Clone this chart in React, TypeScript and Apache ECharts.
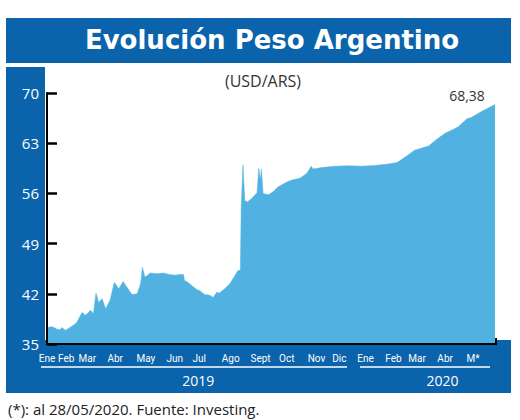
import React, { useEffect, useRef } from 'react';
import * as echarts from 'echarts';

const dates = [
  '2019-01-02', '2019-01-08', '2019-01-13', '2019-01-17', '2019-01-19', '2019-01-23', '2019-01-27',
  '2019-02-02', '2019-02-05', '2019-02-11', '2019-02-15', '2019-02-21', '2019-02-24', '2019-02-27',
  '2019-03-02', '2019-03-06', '2019-03-10', '2019-03-15', '2019-03-20', '2019-03-25', '2019-03-30',
  '2019-04-03', '2019-04-09', '2019-04-15', '2019-04-19', '2019-04-21', '2019-04-24', '2019-04-30',
  '2019-05-08', '2019-05-15', '2019-05-22', '2019-05-28',
  '2019-06-03', '2019-06-07', '2019-06-08', '2019-06-12', '2019-06-16', '2019-06-22', '2019-06-26',
  '2019-07-01', '2019-07-07', '2019-07-11', '2019-07-15', '2019-07-18', '2019-07-24', '2019-07-30',
  '2019-08-05', '2019-08-08', '2019-08-11', '2019-08-12', '2019-08-14', '2019-08-16', '2019-08-19',
  '2019-08-24', '2019-08-30', '2019-09-01', '2019-09-03', '2019-09-04', '2019-09-06', '2019-09-12',
  '2019-09-17', '2019-09-23', '2019-10-03', '2019-10-10', '2019-10-18', '2019-10-26', '2019-10-31',
  '2019-11-02', '2019-11-12', '2019-11-27', '2019-12-12', '2019-12-28',
  '2020-01-12', '2020-01-27', '2020-02-06', '2020-02-17', '2020-02-26', '2020-03-13', '2020-03-24',
  '2020-04-01', '2020-04-10', '2020-04-16', '2020-04-26', '2020-05-01', '2020-05-11', '2020-05-17',
  '2020-05-28',
];

const values = [
  37.3, 37.4, 37.1, 37.0, 37.3, 36.9, 37.2,
  37.7, 38.0, 39.4, 39.0, 39.7, 39.2, 42.1,
  40.8, 41.3, 39.9, 41.1, 43.6, 42.7, 43.7,
  43.0, 41.9, 42.0, 43.4, 45.7, 44.3, 44.9,
  44.8, 44.9, 44.7, 44.6,
  44.7, 44.7, 43.9, 43.6, 43.2, 42.6, 42.4,
  41.9, 41.8, 41.5, 42.2, 42.1, 42.7, 43.4,
  44.6, 45.2, 45.3, 54.3, 60.0, 55.0, 54.8,
  55.3, 56.1, 59.5, 57.9, 59.4, 56.0, 55.8,
  56.2, 56.9, 57.6, 57.9, 58.1, 58.8, 59.8,
  59.4, 59.6, 59.8, 59.85, 59.8,
  59.9, 60.1, 60.3, 61.2, 62.0, 62.6, 63.7,
  64.4, 64.9, 65.3, 66.4, 66.6, 67.3, 67.7,
  68.38,
];

const monthLabels = ['Ene', 'Feb', 'Mar', 'Abr', 'May', 'Jun', 'Jul', 'Ago', 'Sept', 'Oct', 'Nov', 'Dic', 'Ene', 'Feb', 'Mar', 'Abr', 'M*'];
const monthLabelDates = [
  '2019-01-02', '2019-01-24', '2019-02-17', '2019-03-21', '2019-04-25', '2019-05-28', '2019-06-25',
  '2019-07-31', '2019-09-03', '2019-10-03', '2019-11-06', '2019-12-02', '2020-01-01', '2020-02-02',
  '2020-02-29', '2020-04-01', '2020-05-03',
];
const yearLabels = ['2019', '2020'];
const yearLabelDates = ['2019-06-24', '2020-03-29'];

const yMin = 35;
const yMax = 70;
const yStep = 7;

const TITLE = 'Evolución Peso Argentino';
const SUBTITLE = '(USD/ARS)';
const FOOTNOTE = '(*): al 28/05/2020. Fuente: Investing.';

const DARK_BLUE = '#0A63AB';
const AREA_BLUE = '#51B2E2';

function utcDay(s: string): number {
  const [y, m, d] = s.split('-').map(Number);
  return Math.round(Date.UTC(y, m - 1, d) / 86400000);
}
const DAY0 = utcDay(dates[0]);
function dayIndex(s: string): number {
  return utcDay(s) - DAY0;
}

function fmtComma(v: number): string {
  return v.toFixed(2).replace('.', ',');
}

export default function App() {
  const ref = useRef<HTMLDivElement>(null);

  useEffect(() => {
    if (!ref.current) return;
    const chart = echarts.init(ref.current, undefined, { renderer: 'svg' });

    const monthMap = new Map<number, string>();
    monthLabelDates.forEach((d, i) => monthMap.set(dayIndex(d), monthLabels[i]));
    const yearMap = new Map<number, string>();
    yearLabelDates.forEach((d, i) => yearMap.set(dayIndex(d), yearLabels[i]));

    const seriesData = dates.map((d, i) => [dayIndex(d), values[i]]);
    const lastIdx = dates.length - 1;
    const xMin = 0;
    const xMax = dayIndex(dates[lastIdx]);

    chart.setOption({
      animation: false,
      backgroundColor: '#ffffff',
      grid: { left: 47, right: 25, top: 93, bottom: 76, containLabel: false, outerBoundsMode: 'none' },
      graphic: [
        { type: 'rect', z: 0, shape: { x: 6, y: 18, width: 505, height: 45 }, style: { fill: DARK_BLUE } },
        { type: 'rect', z: 0, shape: { x: 6, y: 67, width: 39, height: 326 }, style: { fill: DARK_BLUE } },
        { type: 'rect', z: 0, shape: { x: 6, y: 340, width: 505, height: 53 }, style: { fill: DARK_BLUE } },
        { type: 'line', z: 1, shape: { x1: 41, y1: 367, x2: 347, y2: 367 }, style: { stroke: '#ffffff', lineWidth: 1.5 } },
        { type: 'line', z: 1, shape: { x1: 360, y1: 367, x2: 490, y2: 367 }, style: { stroke: '#ffffff', lineWidth: 1.5 } },
        { type: 'line', z: 6, shape: { x1: 496, y1: 338, x2: 496, y2: 345 }, style: { stroke: '#000000', lineWidth: 2 } },
        {
          type: 'text', z: 1, x: 272, y: 40,
          style: { text: TITLE, fill: '#ffffff', fontSize: 26, fontWeight: 'bold', fontFamily: "'DejaVu Sans', sans-serif", align: 'center', verticalAlign: 'middle' },
        },
        {
          type: 'text', z: 1, x: 263, y: 81,
          style: { text: SUBTITLE, fill: '#333333', fontSize: 16, fontFamily: "'Open Sans', sans-serif", align: 'center', verticalAlign: 'middle' },
        },
        {
          type: 'text', z: 1, x: 8, y: 409,
          style: { text: FOOTNOTE, fill: '#222222', fontSize: 15, fontFamily: "'Open Sans', sans-serif", align: 'left', verticalAlign: 'middle' },
        },
      ],
      xAxis: [
        {
          type: 'value',
          min: xMin,
          max: xMax,
          z: 5,
          axisLine: { show: true, onZero: false, lineStyle: { color: '#000000', width: 2 } },
          axisTick: { show: false },
          splitLine: { show: false },
          axisLabel: {
            customValues: monthLabelDates.map(dayIndex),
            formatter: (v: number) => monthMap.get(Math.round(v)) ?? '',
            color: '#ffffff',
            fontSize: 10,
            fontFamily: "Roboto, sans-serif",
            margin: 9,
            hideOverlap: false,
            showMinLabel: true,
            showMaxLabel: true,
          },
        },
        {
          type: 'value',
          min: xMin,
          max: xMax,
          position: 'bottom',
          z: 5,
          axisLine: { show: false, onZero: false },
          axisTick: { show: false },
          splitLine: { show: false },
          axisLabel: {
            customValues: yearLabelDates.map(dayIndex),
            formatter: (v: number) => yearMap.get(Math.round(v)) ?? '',
            color: '#ffffff',
            fontSize: 14,
            fontFamily: "'Open Sans', sans-serif",
            margin: 29,
            hideOverlap: false,
          },
        },
      ],
      yAxis: {
        type: 'value',
        min: yMin,
        max: yMax,
        interval: yStep,
        z: 5,
        axisLine: { show: true, onZero: false, lineStyle: { color: '#000000', width: 2 } },
        axisTick: { show: true, inside: true, length: 10, lineStyle: { color: '#000000', width: 2.5 } },
        splitLine: { show: false },
        axisLabel: { color: '#ffffff', fontSize: 15, fontFamily: "'Open Sans', sans-serif", margin: 8, showMinLabel: true, showMaxLabel: true },
      },
      series: [
        {
          type: 'line',
          xAxisIndex: 0,
          yAxisIndex: 0,
          data: seriesData,
          showSymbol: false,
          symbol: 'none',
          lineStyle: { width: 0.5, color: AREA_BLUE },
          areaStyle: { color: AREA_BLUE, opacity: 1 },
          z: 2,
          markPoint: {
            symbol: 'circle',
            symbolSize: 0,
            data: [{ coord: [dayIndex(dates[lastIdx]), values[lastIdx]], value: values[lastIdx] }],
            label: {
              show: true,
              position: 'inside',
              offset: [-28, -9],
              formatter: (p: any) => fmtComma(p.value),
              color: '#333333',
              fontSize: 14,
              fontFamily: "'Open Sans', sans-serif",
            },
          },
        },
      ],
    });

    return () => chart.dispose();
  }, []);

  return <div ref={ref} style={{ position: 'fixed', left: 0, top: 0, width: 520, height: 420 }} />;
}
